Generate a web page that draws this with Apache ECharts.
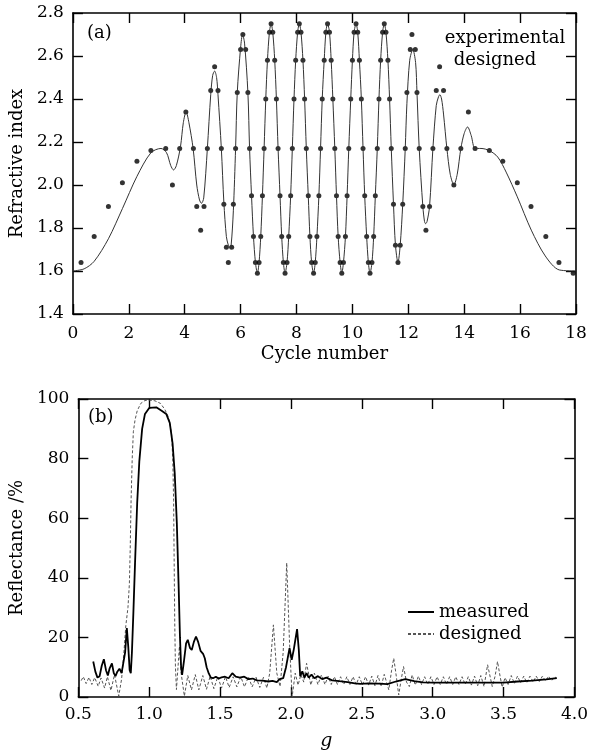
<!DOCTYPE html>
<html>
<head>
<meta charset="utf-8">
<script src="https://cdn.jsdelivr.net/npm/echarts@6.0.0/dist/echarts.min.js"></script>
<style>
  html, body { margin: 0; padding: 0; background: #fff; }
  #chart { width: 591px; height: 752px; }
</style>
</head>
<body>
<div id="chart"></div>
<script>
// (a) profil d'indice : points mesurés et profil conçu [cycle, indice]
var expLeft = [[0.29,1.64],[0.76,1.76],[1.27,1.90],[1.77,2.01],[2.29,2.11],[2.79,2.16],[3.32,2.17],[3.56,2.00],[3.82,2.17],
	[4.04,2.34],[4.31,2.17],[4.43,1.90],[4.57,1.79],[4.69,1.90],[4.81,2.17],[4.93,2.44],[5.07,2.55],[5.19,2.44],[5.31,2.17],
	[5.40,1.91],[5.49,1.71],[5.56,1.64],[5.68,1.71],[5.74,1.91],[5.82,2.17],[5.88,2.43],[6.00,2.63],[6.08,2.70],[6.18,2.63],[6.26,2.43]];

// cycles centraux : le profil passe par les points mesurés
var centre = [[6.32,2.17],[6.39,1.95],[6.46,1.76],[6.53,1.64],[6.60,1.59],[6.66,1.64],[6.72,1.76],[6.78,1.95],
	[6.84,2.17],[6.90,2.40],[6.96,2.58],[7.03,2.71],[7.09,2.75],[7.15,2.71],[7.22,2.58],[7.28,2.40],
	[7.34,2.17],[7.41,1.95],[7.47,1.76],[7.53,1.64],[7.59,1.59],[7.66,1.64],[7.72,1.76],[7.79,1.95],
	[7.85,2.17],[7.91,2.40],[7.97,2.58],[8.04,2.71],[8.10,2.75],[8.16,2.71],[8.23,2.58],[8.29,2.40],
	[8.35,2.17],[8.42,1.95],[8.48,1.76],[8.54,1.64],[8.61,1.59],[8.67,1.64],[8.73,1.76],[8.80,1.95],
	[8.86,2.17],[8.92,2.40],[8.99,2.58],[9.05,2.71],[9.11,2.75],[9.18,2.71],[9.24,2.58],[9.30,2.40],
	[9.37,2.17],[9.43,1.95],[9.49,1.76],[9.56,1.64],[9.62,1.59],[9.68,1.64],[9.75,1.76],[9.81,1.95],
	[9.87,2.17],[9.94,2.40],[10.00,2.58],[10.06,2.71],[10.13,2.75],[10.19,2.71],[10.25,2.58],[10.32,2.40],
	[10.38,2.17],[10.44,1.95],[10.51,1.76],[10.57,1.64],[10.63,1.59],[10.70,1.64],[10.76,1.76],[10.82,1.95],
	[10.89,2.17],[10.95,2.40],[11.01,2.58],[11.08,2.71],[11.14,2.75],[11.20,2.71],[11.27,2.58],[11.33,2.40],
	[11.39,2.17],[11.47,1.91],[11.54,1.72],[11.63,1.64],[11.71,1.72],[11.80,1.91],[11.89,2.17]];

var expRight = [[11.95,2.43],[12.07,2.63],[12.13,2.70],[12.25,2.63],[12.31,2.43],[12.39,2.17],[12.52,1.90],[12.63,1.79],
	[12.76,1.90],[12.88,2.17],[13.00,2.44],[13.12,2.55],[13.26,2.44],[13.38,2.17],[13.63,2.00],[13.88,2.17],[14.15,2.34],
	[14.39,2.17],[14.90,2.16],[15.38,2.11],[15.90,2.01],[16.39,1.90],[16.92,1.76],[17.39,1.64],[17.90,1.59]];

var desLeft = [[0,1.60],[0.4,1.61],[0.76,1.645],[1.27,1.75],[1.77,1.89],[2.29,2.04],[2.79,2.15],[3.15,2.17],[3.35,2.15],
	[3.5,2.09],[3.6,2.07],[3.7,2.09],[3.85,2.18],[3.95,2.29],[4.05,2.34],[4.15,2.29],[4.3,2.17],[4.43,2.00],[4.53,1.93],
	[4.6,1.915],[4.68,1.94],[4.81,2.17],[4.93,2.42],[5.0,2.51],[5.07,2.53],[5.14,2.50],[5.19,2.42],[5.31,2.17],[5.40,1.92],
	[5.49,1.76],[5.56,1.72],[5.61,1.71],[5.66,1.72],[5.74,1.88],[5.82,2.17],[5.88,2.43],[6.0,2.64],[6.07,2.70],[6.14,2.66],[6.26,2.43]];

var desRight = [[11.95,2.38],[12.05,2.58],[12.16,2.63],[12.26,2.57],[12.31,2.43],[12.39,2.17],[12.52,1.90],[12.58,1.83],
	[12.62,1.82],[12.67,1.83],[12.76,1.90],[12.88,2.17],[13.0,2.37],[13.08,2.41],[13.13,2.42],[13.19,2.40],[13.26,2.33],
	[13.38,2.17],[13.5,2.05],[13.63,2.00],[13.75,2.05],[13.88,2.17],[14.0,2.24],[14.12,2.27],[14.25,2.23],[14.39,2.17],
	[14.6,2.17],[14.9,2.16],[15.2,2.13],[15.5,2.06],[15.9,1.945],[16.4,1.79],[16.9,1.67],[17.4,1.605],[18,1.60]];

// (b) réflectance mesurée et conçue [g, %]
var measured = [[0.605,11.9],[0.62,8.5],[0.635,6.5],[0.65,7],[0.665,10.5],[0.68,12.7],[0.695,9],[0.708,7.2],[0.72,9.5],
	[0.737,11.3],[0.75,8],[0.762,7],[0.775,8.5],[0.79,9.5],[0.805,8],[0.815,8.5],[0.83,15],[0.842,23.1],[0.852,17],
	[0.862,9],[0.87,8],[0.878,15],[0.888,28],[0.9,45],[0.915,65],[0.93,79],[0.95,90],[0.97,95],[1.0,97],[1.05,97.2],
	[1.09,96],[1.12,95],[1.145,92],[1.165,85],[1.18,75],[1.195,58],[1.207,38],[1.217,20],[1.225,10],[1.232,7.4],
	[1.245,12],[1.26,18],[1.272,19.2],[1.287,16.5],[1.30,15.8],[1.315,18.5],[1.33,20.3],[1.345,18.5],[1.362,15.5],
	[1.38,14.5],[1.392,13],[1.405,10],[1.42,7.9],[1.435,6.5],[1.45,6.3],[1.47,6.8],[1.49,6.2],[1.51,6.6],[1.535,6.8],
	[1.56,6.3],[1.586,8],[1.61,6.8],[1.64,6.5],[1.67,6.8],[1.70,6.0],[1.73,6.2],[1.76,5.6],[1.80,5.5],[1.84,5.2],
	[1.87,5.4],[1.90,5.0],[1.92,6.0],[1.945,6.3],[1.965,10],[1.99,16.4],[2.005,12.5],[2.02,16],[2.043,22.8],[2.055,16],
	[2.065,7],[2.08,8.6],[2.095,6.5],[2.11,8],[2.125,6.5],[2.145,7.5],[2.165,6.3],[2.19,7],[2.22,6.0],[2.25,6.5],
	[2.29,5.6],[2.34,5.3],[2.40,5.0],[2.45,4.6],[2.49,4.4],[2.55,4.6],[2.62,4.5],[2.68,4.3],[2.74,5.2],[2.806,6],
	[2.87,5.3],[2.93,4.9],[3.0,4.8],[3.1,4.8],[3.2,4.8],[3.3,4.8],[3.4,4.8],[3.5,4.8],[3.6,5.2],[3.7,5.5],[3.8,5.9],[3.875,6.3]];

var designed = [[0.52,5.5],[0.535,6.8],[0.555,4.5],[0.575,6.6],[0.595,4.2],[0.615,6.5],[0.64,3.6],[0.66,6.4],[0.685,3.0],
	[0.705,6.8],[0.73,2.2],[0.755,7.5],[0.785,0.3],[0.805,6],[0.82,14],[0.835,24],[0.85,30],[0.86,38],[0.866,50],[0.872,66],
	[0.88,80],[0.888,89],[0.90,93],[0.915,96],[0.94,98.5],[0.97,99.5],[1.0,99.6],[1.04,99.4],[1.08,98.5],[1.11,96.5],
	[1.13,94.5],[1.145,92],[1.158,88],[1.166,80],[1.172,66],[1.176,45],[1.18,25],[1.185,10],[1.192,2.5],[1.203,10],
	[1.213,17],[1.225,8],[1.248,0.3],[1.272,7.2],[1.298,2.4],[1.325,7.5],[1.35,2.4],[1.378,7.2],[1.404,2.6],[1.43,7],
	[1.456,2.8],[1.484,6.8],[1.51,3],[1.538,6.8],[1.564,3.2],[1.592,6.8],[1.618,3.4],[1.646,6.8],[1.672,3.4],[1.70,6.8],
	[1.726,3.4],[1.754,6.6],[1.78,3.2],[1.806,6.6],[1.83,3],[1.85,8],[1.876,24.2],[1.90,8],[1.923,3.5],[1.945,15],
	[1.97,45],[1.99,18],[2.008,0],[2.03,8],[2.05,4],[2.07,7.5],[2.09,5],[2.11,11.3],[2.14,4],[2.165,8],[2.19,4.2],
	[2.215,7.4],[2.24,4.2],[2.262,7],[2.284,4.2],[2.306,6.8],[2.328,4.2],[2.35,6.8],[2.372,4.2],[2.394,6.8],[2.416,4.2],
	[2.438,6.8],[2.46,4.2],[2.482,6.8],[2.504,4.1],[2.526,6.8],[2.548,4.0],[2.57,7],[2.592,3.8],[2.614,7.2],[2.636,3.5],
	[2.658,7.6],[2.69,2.4],[2.71,9],[2.725,13],[2.74,8],[2.76,0.7],[2.778,6],[2.794,10.2],[2.815,5],[2.835,3.5],
	[2.855,7.4],[2.877,4],[2.899,7],[2.921,4.2],[2.943,6.8],[2.965,4.2],[2.987,6.8],[3.009,4.2],[3.031,6.8],[3.053,4.2],
	[3.075,6.8],[3.097,4.2],[3.119,6.8],[3.141,4.2],[3.163,6.8],[3.185,4.2],[3.207,6.8],[3.229,4.2],[3.251,6.8],[3.273,4.0],
	[3.295,7],[3.317,3.8],[3.339,7.2],[3.362,3.5],[3.387,10.8],[3.42,3.5],[3.44,7],[3.457,11.9],[3.475,7],[3.49,3.3],
	[3.51,6.5],[3.532,4.2],[3.554,7.2],[3.576,4.5],[3.598,7],[3.62,4.8],[3.642,7],[3.664,4.8],[3.686,7],[3.708,5],
	[3.73,7],[3.752,5.2],[3.774,7],[3.796,5.4],[3.818,7],[3.84,5.5],[3.86,6.8],[3.875,6.3]];

var experimental = expLeft.concat(centre, expRight);
var designedIndex = desLeft.concat(centre, desRight);

var FONT = 'DejaVu Serif';

function unDecimal(v) {
	return v.toFixed(1);
}

// axe commun : ticks vers l'intérieur, trait noir
function axe(extra) {
	var a = {
		type: 'value',
		axisLine: { show: true, onZero: false, lineStyle: { color: '#000', width: 1.6 } },
		axisTick: { show: true, inside: true, length: 10, lineStyle: { color: '#000', width: 1.4 } },
		axisLabel: { show: true, color: '#000', fontFamily: FONT, fontSize: 17, margin: 9, showMinLabel: true, showMaxLabel: true },
		splitLine: { show: false },
		nameTextStyle: { color: '#000', fontFamily: FONT, fontSize: 18 }
	};
	for (var k in extra) {
		if (k === 'axisLabel') {
			for (var j in extra[k]) a.axisLabel[j] = extra[k][j];
		} else {
			a[k] = extra[k];
		}
	}
	return a;
}

var chart = echarts.init(document.getElementById('chart'), null, { renderer: 'canvas' });

var option = {
	animation: false,
	backgroundColor: '#fff',
	grid: [
		{ left: 72, top: 13, width: 504, height: 301 },
		{ left: 76, top: 399, width: 502, height: 298 }
	],
	xAxis: [
		axe({ gridIndex: 0, min: 0, max: 18, interval: 2, position: 'bottom',
			axisLabel: { margin: 11 },
			name: 'Cycle number', nameLocation: 'middle', nameGap: 31 }),
		axe({ gridIndex: 0, min: 0, max: 18, interval: 2, position: 'top', axisLabel: { show: false } }),
		axe({ gridIndex: 1, min: 0.5, max: 4.0, interval: 0.5, position: 'bottom',
			axisLabel: { formatter: unDecimal },
			name: 'g', nameLocation: 'middle', nameGap: 35,
			nameTextStyle: { color: '#000', fontFamily: FONT, fontSize: 19, fontStyle: 'italic' } }),
		axe({ gridIndex: 1, min: 0.5, max: 4.0, interval: 0.5, position: 'top', axisLabel: { show: false } })
	],
	yAxis: [
		axe({ gridIndex: 0, min: 1.4, max: 2.8, interval: 0.2, position: 'left',
			axisLabel: { formatter: unDecimal },
			name: 'Refractive index', nameLocation: 'middle', nameGap: 45 }),
		axe({ gridIndex: 0, min: 1.4, max: 2.8, interval: 0.2, position: 'right', axisLabel: { show: false } }),
		axe({ gridIndex: 1, min: 0, max: 100, interval: 20, position: 'left',
			name: 'Reflectance /%', nameLocation: 'middle', nameGap: 48 }),
		axe({ gridIndex: 1, min: 0, max: 100, interval: 20, position: 'right', axisLabel: { show: false } })
	],
	legend: {
		data: ['measured', 'designed'],
		orient: 'vertical',
		left: 402,
		top: 598,
		itemWidth: 26,
		itemHeight: 10,
		itemGap: 4,
		itemStyle: { opacity: 0 },
		lineStyle: { opacity: 1 },
		textStyle: { color: '#000', fontFamily: FONT, fontSize: 18 }
	},
	graphic: [
		{ type: 'text', left: 87, top: 24, style: { text: '(a)', font: '18px "DejaVu Serif"', fill: '#000' } },
		{ type: 'text', left: 88, top: 408, style: { text: '(b)', font: '18px "DejaVu Serif"', fill: '#000' } },
		{ type: 'text', x: 505, y: 38, style: { text: 'experimental', font: '18px "DejaVu Serif"', fill: '#000', textAlign: 'center', textVerticalAlign: 'middle' } },
		{ type: 'text', x: 495, y: 60, style: { text: 'designed', font: '18px "DejaVu Serif"', fill: '#000', textAlign: 'center', textVerticalAlign: 'middle' } }
	],
	series: [
		{
			name: 'designed profile',
			type: 'line',
			xAxisIndex: 0, yAxisIndex: 0,
			data: designedIndex,
			symbol: 'none',
			smooth: 0.3,
			lineStyle: { color: '#333', width: 1 }
		},
		{
			name: 'experimental',
			type: 'scatter',
			xAxisIndex: 0, yAxisIndex: 0,
			data: experimental,
			symbol: 'circle',
			symbolSize: 5,
			itemStyle: { color: '#000' }
		},
		{
			name: 'designed',
			type: 'line',
			xAxisIndex: 2, yAxisIndex: 2,
			data: designed,
			symbol: 'none',
			lineStyle: { color: '#555', width: 1, type: [3, 2] }
		},
		{
			name: 'measured',
			type: 'line',
			xAxisIndex: 2, yAxisIndex: 2,
			data: measured,
			symbol: 'none',
			lineStyle: { color: '#000', width: 1.8 }
		}
	]
};

chart.setOption(option);
</script>
</body>
</html>
